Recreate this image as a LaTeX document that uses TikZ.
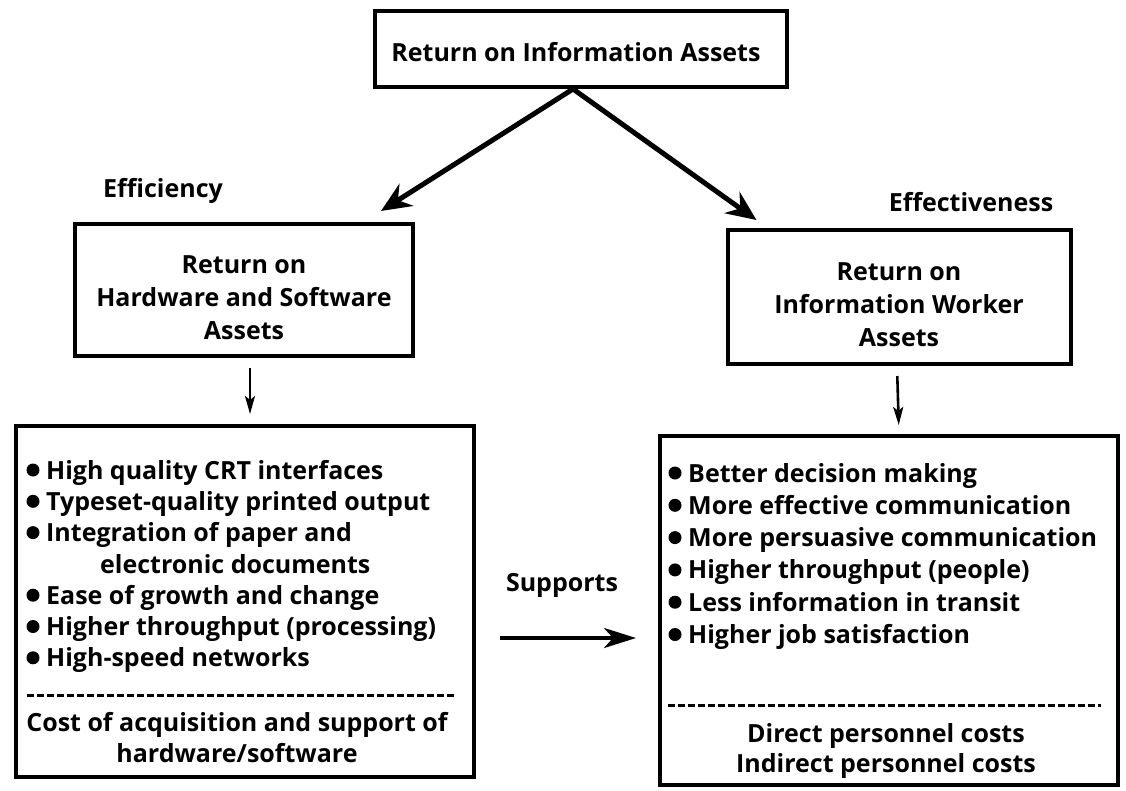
\documentclass[tikz,border=0pt]{standalone}
\usepackage{fontspec}
\setmainfont{Open Sans}
\usetikzlibrary{arrows.meta}
\newcommand{\fsz}{\fontsize{25}{33}\selectfont\bfseries}
\begin{document}
\begin{tikzpicture}[x=1pt,y=-1pt,
  frame/.style={draw, line width=4pt, inner sep=0pt},
  txt/.style={inner sep=0pt, font=\fsz, align=center},
  dot/.style={fill=black},
  bigarrow/.style={line width=5pt, -{Stealth[length=30pt,width=26pt,inset=10pt]}},
  smallarrow/.style={line width=2.6pt, -{Stealth[length=18pt,width=10pt,inset=4pt]}},
  suparrow/.style={line width=4pt, -{Stealth[length=32pt,width=20pt,inset=9pt]}},
  dashline/.style={line width=3pt, dash pattern=on 7pt off 3pt}]
\useasboundingbox (0,0) rectangle (1126,790);
% top box
\node[frame, minimum width=412pt, minimum height=76pt] (top) at (581,49) {};
\node[txt] (toptxt) at (576,52) {Return on Information Assets};
% labels
\node[txt] (eff) at (163,191) {Efficiency};
\node[txt] (effv) at (971,202) {Effectiveness};
% second level boxes
\node[frame, minimum width=338pt, minimum height=132pt] (hw) at (244,290) {};
\node[txt] (hwtxt) at (244,298) {Return on\\Hardware and Software\\Assets};
\node[frame, minimum width=343pt, minimum height=134pt] (wk) at (899,297) {};
\node[txt] (wktxt) at (899,305) {Return on\\Information Worker\\Assets};
% bottom boxes
\node[frame, minimum width=458pt, minimum height=351pt] (hwl) at (245,601.5) {};
\node[frame, minimum width=458pt, minimum height=349pt] (wkl) at (889,610.5) {};
% left list
\foreach \t [count=\i from 0] in {High quality CRT interfaces,Typeset-quality printed output,Integration of paper and} {
  \node[txt, anchor=base west] (hb\i) at (46,479+31.3*\i) {\t};
  \fill[dot] (33,479+31.3*\i-9) circle (6.5pt);
}
\node[txt, anchor=base west] (hb3) at (100,573) {electronic documents};
\foreach \t [count=\i from 4] in {Ease of growth and change,Higher throughput (processing),High-speed networks} {
  \node[txt, anchor=base west] (hb\i) at (46,479+31.3*\i) {\t};
  \fill[dot] (33,479+31.3*\i-9) circle (6.5pt);
}
\draw[dashline] (27,695) -- (457,695);
\node[txt, anchor=base] (hc1) at (237,731) {Cost of acquisition and support of};
\node[txt, anchor=base] (hc2) at (237,762) {hardware/software};
% right list
\foreach \t [count=\i from 0] in {Better decision making,More effective communication,More persuasive communication,Higher throughput (people),Less information in transit,Higher job satisfaction} {
  \node[txt, anchor=base west] (wb\i) at (688,482+32.3*\i) {\t};
  \fill[dot] (675,482+32.3*\i-9) circle (6.5pt);
}
\draw[dashline] (668,705) -- (1101,705);
\node[txt, anchor=base] (wc1) at (886,742) {Direct personnel costs};
\node[txt, anchor=base] (wc2) at (886,772) {Indirect personnel costs};
% supports
\node[txt] (sup) at (562,585) {Supports};
\coordinate (supy) at (0,638);
% connectors
\draw[bigarrow] ([xshift=-8pt]top.south) -- ([xshift=-34pt,yshift=11pt]hw.north east);
\draw[bigarrow] ([xshift=-8pt]top.south) -- ([xshift=31pt,yshift=8pt]wk.north west);
\draw[smallarrow, shorten <=10pt, shorten >=10pt] ([xshift=6pt]hw.south) -- ([xshift=5pt]hwl.north);
\draw[smallarrow, shorten <=10pt, shorten >=9pt] ([xshift=-2pt]wk.south) -- (wkl.north -| wk.south);
\draw[suparrow, shorten <=24pt, shorten >=22pt] (hwl.east |- supy) -- (wkl.west |- supy);
\end{tikzpicture}
\end{document}
